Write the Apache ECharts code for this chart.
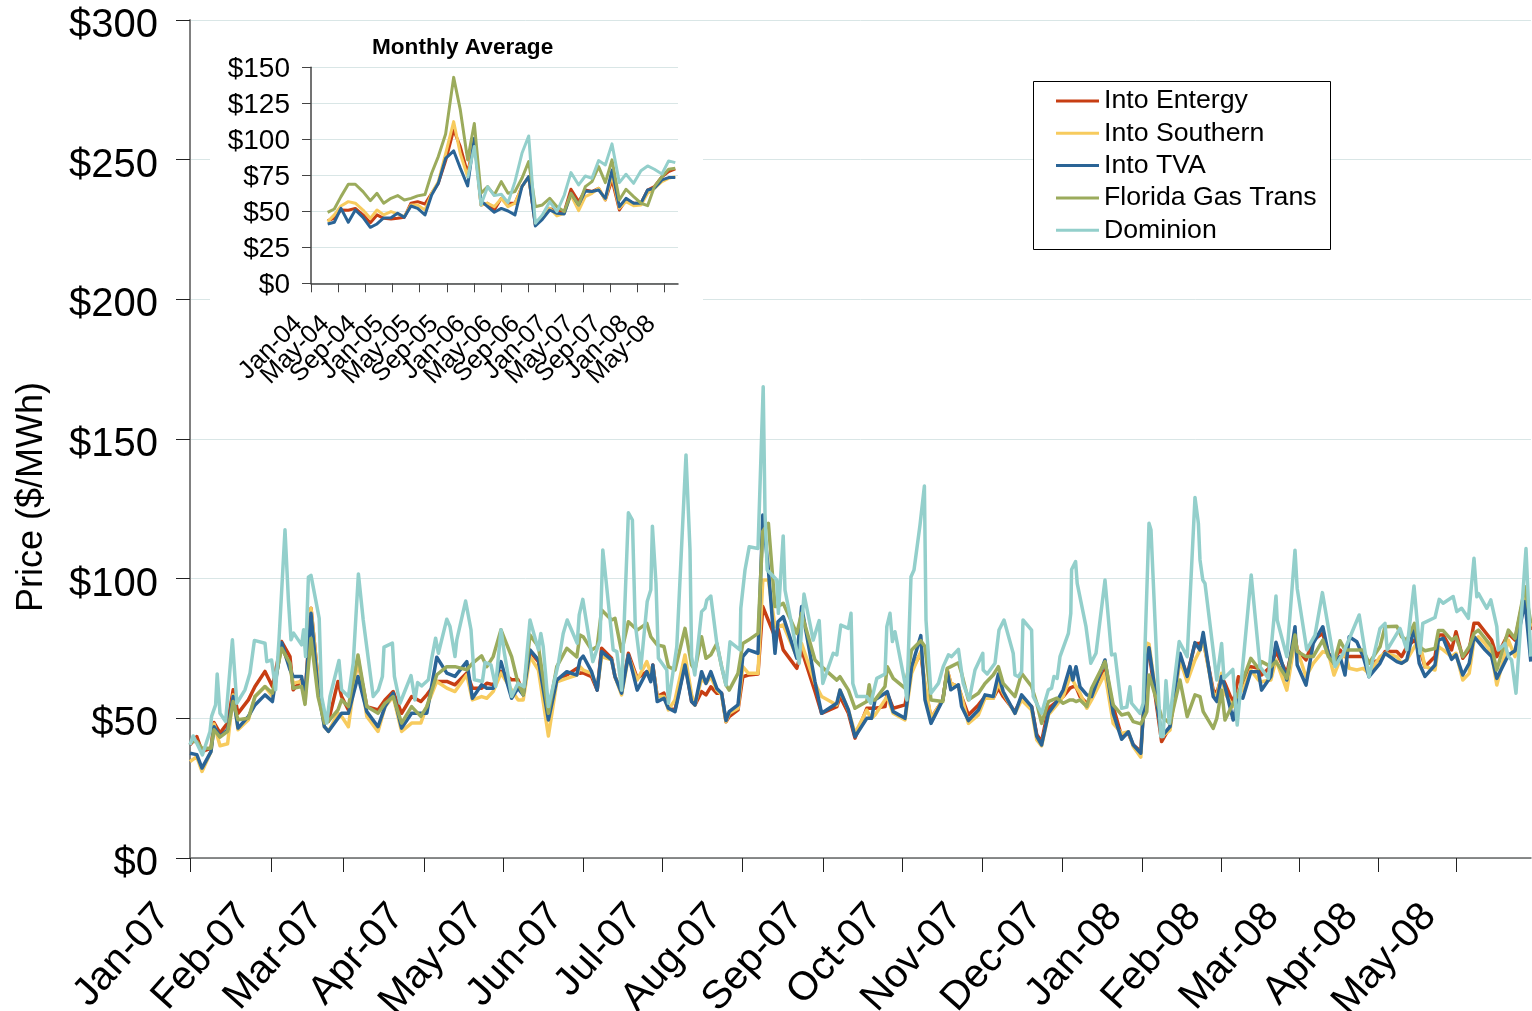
<!DOCTYPE html>
<html lang="en">
<head>
    <meta charset="UTF-8">
    <title>Power prices</title>
    <style>
        body{
            margin: 0;
            background: #fff;
        }
    </style>
</head>
<body>
<div id="main" style="width: 1532px;height:1011px;"></div>
<script src="https://cdn.jsdelivr.net/npm/echarts@6/dist/echarts.min.js"></script>
<script type="text/javascript">
    // daily chart: x is the trading day counted from 2 Jan 2007
    var monthTicks = [0, 20.25, 38.25, 58.5, 78.25, 98.25, 118, 138, 158.25, 178, 198, 218, 238, 257.75, 277.25, 297, 316.5];
    var monthLabels = ['Jan-07', 'Feb-07', 'Mar-07', 'Apr-07', 'May-07', 'Jun-07', 'Jul-07', 'Aug-07', 'Sep-07', 'Oct-07', 'Nov-07', 'Dec-07', 'Jan-08', 'Feb-08', 'Mar-08', 'Apr-08', 'May-08'];
    var seriesNames = ['Into Entergy', 'Into Southern', 'Into TVA', 'Florida Gas Trans', 'Dominion'];
    var seriesColors = ['#C73E13', '#F7CB5E', '#2A6496', '#9BAB5C', '#93CFCB'];

    var hubDays = [
        0,1.7,3,5.25,6,7.5,9.4,10.8,12,14.6,
        16.25,18.75,20.6,22.9,25,25.8,27.9,28.75,30.25,32,
        33.6,34.6,37,37.9,39.6,42,44.2,47,48.75,50.8,
        52.9,55.4,57.7,59.2,61.7,64.2,66.25,69.2,70.6,72.9,
        74.2,75.8,77.75,80.4,82,83.3,85,87.1,89.6,91.7,
        94.2,96.7,97.5,98.3,100.4,101.8,102.9,105.4,106.25,107.9,
        109.6,111.8,114.2,115.2,115.7,116.8,118.5,119.6,121.25,123.75,
        125.4,126.25,127.9,129,130.2,131.7,132.9,134,134.8,137,
        138.2,139.6,142,143.2,144.6,146.25,147,148.3,151.7,152.9,
        156.25,157.9,161.7,162.5,164.6,166.25,169.2,169.8,170.4,171.25,
        173.75,174.3,175.8,178.75,180.4,182.7,183.75,185.25,188.2,189.3,
        190.2,192.1,192.9,194.6,197.1,198.75,200.8,202.1,203.3,206.25,
        207.9,210.4,211.7,212.9,214.6,216.7,218.3,220,220.7,221.5,
        222.5,224.2,225.4,228.75,230.8,232.9,234.6,235.8,237.7,239.2,
        239.75,242.9,245,247.5,249.3,251.25,252.5,253.3,255.8,256.7,
        257.9,258.75,260.8,262.1,263.2,265.2,267.1,267.9,270.2,271.5,
        274.2,276.25,276.8,279,280.8,283.2,284.6,286,287.5,288.75,
        289.8,291.7,293.3,294.75,297.5,298.75,301.7,302.9,304.2,306.1,
        307.3,308.75,311.25,312.1,313.3,315.4,316.5,318.2,319.8,321,
        322.1,323.75,325.4,326.7,329.6,331.25,333.75,335.2
    ];
    var entergy = [
        40.5,43.5,38.1,39.3,48.5,44.7,48.3,60.2,51.8,56.6,
        61.4,66.8,61.4,77.5,72.1,60.2,63.8,57.8,89.4,63.8,
        50.7,48.9,63.2,57.8,53,70.9,54.2,53,56.6,59.6,
        51.8,57.8,56,58.4,63.2,63.2,62,66.2,60.8,60.8,
        62.6,62,66.8,63.8,63.8,59,73.9,70.3,50.6,63.7,
        65.5,67.9,66.1,66.3,64.9,60.1,75.1,71.5,64.9,59.6,
        73.3,64.3,66.7,63.7,69.1,57.8,59,53.6,53,69.7,
        56,54.8,59.6,58.4,61.3,59,59,48.8,50.6,53,
        64.9,65.5,65.9,90,85,79.2,82.2,74.5,67.9,74.5,
        59.6,51.8,54.2,57.8,51.8,42.9,53.6,53.6,53.6,53.6,
        54.2,59,53.6,54.8,67.3,73.3,61.3,50,56.6,67.3,
        62.5,61.3,57.8,51.2,54.8,57.8,57.2,60.8,57.8,52.4,
        57.2,54.2,44.1,41.7,53.6,56,57.8,60.8,61.3,61.3,
        57.8,55.4,57.2,67.3,54.2,43.5,44.6,40.5,38.1,72.1,
        73.9,41.7,47,72.1,65.5,76.8,76.8,78,60.1,59,
        65,62.5,55.4,64.9,61.3,68.5,67.9,65.5,68.5,73.9,
        66.1,79.2,74.5,70.9,78,80.4,73.3,70.9,74.5,72.1,
        72.1,72.1,72.1,69.7,70.9,73.9,73.9,72.1,75.6,78,
        75.6,68.5,72.1,79.8,79.8,74.5,81,71.5,74.5,84,
        84,81,78,72.1,80.4,78,95.9,81.6
    ];
    var southern = [
        34.5,36.3,31,38.1,48,40.2,40.9,58.4,45.9,49.5,
        57.8,61.4,57.8,75.7,68.5,62.6,63.2,55.4,89.4,63.8,
        47,45.3,51.8,50.7,47,72,50.7,45.3,54.2,57.8,
        45.3,48.3,48.3,54.2,63.2,60.8,59.6,65.6,56.6,57.8,
        57.2,59.6,66.2,60.2,56.6,56.6,72.1,67.3,43.7,63.1,
        64.3,65.5,68.5,67.3,66.1,60.7,72.1,70.9,64.9,58.4,
        72.1,63.7,70.3,66.1,68.5,57.8,57.8,53,56.6,72.7,
        58.4,54.8,64.3,62.5,64.9,60.1,58.4,48.8,51.8,53.6,
        68.5,66.1,66.1,99.5,99.5,82.8,82.8,83.4,72.1,76.8,
        62.5,57.8,54.8,60.1,53,44.6,53,51.2,50,51.2,
        56.6,57.8,51.8,49.4,66.1,73.9,62.5,50,56.6,67.3,
        62.5,61.3,57.8,48.2,51.2,57.2,57.2,62.5,59,51.8,
        56.6,53,42.3,40.1,51.2,54.8,57.8,64.9,63.7,61.3,
        59,53.6,56.6,66.1,48.2,44.6,45.2,39.9,36.1,76.9,
        76.6,43.5,45.8,70.9,63.1,70.9,74.5,78,59,57.8,
        66.1,58.9,54.2,59,60.1,67.3,63.7,63.1,63.7,70.9,
        60.1,78,74.5,64.9,69.7,73.9,73.3,65.5,70.9,73.3,
        67.9,67.3,67.9,66.1,72.1,73.3,72.1,69.7,70.9,75.6,
        78,68.5,67.3,75.6,74.5,72.1,73.3,63.7,66.1,78,
        79.2,76.8,73.3,61.9,78,72.1,94.7,82.8
    ];
    var tva = [
        37.5,37,32.2,38.1,47,43.5,45.9,57.8,46.5,50.7,
        54.8,58.4,56,77.1,67.4,65,65,57.8,87.6,60.2,
        47,45.3,50,51.8,51.8,65,52.4,47,54.2,59,
        46.5,51.8,51.8,51.8,71.9,66.2,65,70.3,57.2,62,
        60.8,60.8,70.3,57.2,60.8,58.4,74.5,70.9,49.4,63.7,
        66.7,65.5,70.9,72.3,66.7,60.1,73.9,70.9,64.9,59,
        72.7,60.1,66.7,63.1,69.1,56,57.2,53.6,52.4,69.1,
        56,54.8,66.7,62.5,66.7,60.7,59,49.2,52.4,54.8,
        72.1,74.5,73.3,122.8,103,73.3,84.6,86.4,71.5,90,
        63.1,51.8,55.4,60.1,53,43.4,50,50,50,56.6,
        59,59.6,52.4,50,68.5,79.6,56.6,48.2,56.6,66.7,
        60.2,62,54.2,49.2,53,58.4,57.8,65.9,59.6,51.8,
        58.4,54.2,43.5,40.5,51.8,56,60.2,68.5,63.7,68.5,
        61.3,58.4,57.8,70.9,51.8,42.5,45.2,40.5,37.5,70.9,
        75.3,43.5,47,73.3,65,77.1,74.5,80.7,57.8,56,
        65,61.3,49.4,57.8,57.2,66.7,66.7,60.1,65,77.2,
        63.7,82.8,69.1,61.9,76.8,82.8,73.3,69.7,72.1,65.5,
        79.2,77.4,72.1,64.9,69.7,73.3,70.3,69.7,70.9,82.8,
        69.7,65,69.1,78,78.6,71.1,72.7,65.5,69.7,79.2,
        77.4,74.5,72.1,64.3,72.7,74.2,91.8,70.3
    ];
    var florida = [
        41.7,41.7,39.3,39.3,45.9,43.3,45.3,56,49.5,50,
        57.8,61.4,59,75.1,69.7,60.8,61.4,55,78.7,57.8,
        48.3,48.9,53,56.6,54.2,72.7,54.2,51.8,55.4,57.8,
        48.3,54.2,50.7,54.2,65.6,68.5,68.5,67.4,69.7,72.4,
        68.5,72.1,81.7,72.1,62.6,58.4,79.8,75.7,51.8,68.5,
        75.1,72,79.8,79.2,74.5,75.7,88.8,85.2,85.8,73.9,
        84.6,81.6,84,79.2,79.2,76.3,75.7,68.5,67.3,82.2,
        69.1,67.3,79.2,71.5,72.7,76.8,68.5,61.9,60.1,66.1,
        76.8,78,80.4,117,119.8,90,90,91.2,80.4,87.6,
        70.9,68.5,63.7,64.9,60.1,53.6,56,62,56.6,56.6,
        61.4,68.5,64.3,60.8,74.5,77.8,75.7,56.6,56,67.9,
        68.5,69.9,66.1,56.6,59,62.5,65.5,68.5,62.5,57.8,
        66.1,61.4,55.4,48.2,56,57.2,55.4,56.6,56.6,56,
        56.6,54.2,60.8,70.3,54.8,51.2,51.8,48.8,48,52.4,
        65.5,50.6,48.2,63.7,50.6,58.4,57.8,52.4,46.4,50,
        60.1,49.4,55.4,59,63.7,71.5,67.9,70.3,68.5,70.3,
        64.3,79.8,73.9,72.1,72.1,78,72.1,69.7,77.8,74.5,
        74.5,74.5,74.5,69.7,75.6,82.8,83,79.2,78,84,
        75.6,74.2,75,81.4,81.4,78,79.2,72.1,75.6,80.4,
        81.6,78.6,75.6,67.3,81.6,78.6,97.1,84
    ];
    // Dominion spikes on its own days, so it keeps its own day list
    var dominionDays = [
        0,0.8,1.7,3.1,5,5.4,6.4,6.8,7.5,8.9,10.6,11.7,13.75,15,16.1,18.75,19.2,20.4,21.4,22.25,
        23.75,24.6,25.25,25.9,27.9,28.4,28.9,29.6,30.25,32.3,32.9,34.2,35,37.25,37.9,39.6,40.8,42.1,43.3,45.8,
        47.1,48.1,48.5,50.6,51.1,52.5,55.25,56.25,56.9,57.9,59.6,60.4,61.4,62.1,64.2,65,66.25,66.7,68.9,70.25,
        71.1,73.1,73.75,75.25,76.4,77.75,78.6,80.4,82,83.5,85,87.1,87.7,88.3,89.6,92.1,93.3,94.3,96.8,97.3,
        98.2,98.6,100.7,102.5,103.2,104,105.8,106.7,107.9,109.6,110.6,111.3,112.7,114.3,115.2,115.6,116.5,117.1,119.2,119.6,
        121.7,124,125,125.4,126.2,127.9,128.75,129.2,130.2,131.7,132.9,134,135,137.5,137.7,138.75,139.8,142,143.3,143.75,
        144.3,146.7,147.1,148.3,148.75,152.3,153.5,155.8,157.3,158.2,160.8,161.7,162.7,164.6,165.25,165.7,166.7,169.2,170.2,171.7,
        173.75,174.2,175,175.6,176.25,178.75,179.2,180.25,181,182.5,183.6,184,185.25,187.1,188.3,189.6,190.4,192.1,193.3,194.8,
        196.25,198.2,198.3,199.3,201.25,202.25,203.5,205.8,206.25,207.1,207.9,208.25,210.4,210.8,212.9,214.6,215.4,216,216.8,217.5,
        219.6,220.2,220.4,221.4,221.8,224,225.2,226.5,228.75,230.4,231.25,232.9,234.2,235,235.4,237.5,238.3,239.75,240.25,241.8,
        242.7,243.3,244,244.8,247.3,249.3,251.25,252.1,252.5,253.2,253.75,256.7,257.9,258.5,260.7,261.8,265.3,266.7,267.5,269.6,
        271.5,271.8,274.2,276.25,276.8,279.2,281.25,283.1,286.25,288.3,292.3,294.75,297.5,298.75,299.3,302.5,304.2,306,307.5,308.2,
        311.25,312.3,313.3,315.8,316.7,317.9,319.6,321,321.7,322.1,324.2,325.2,326.7,327.1,328.75,329.6,330.4,331.5,334,335.2
    ];
    var dominion = [
        40.5,43.7,41.1,36.9,45.3,50.7,54.8,65.9,51.8,48.9,78.1,55.4,60.2,66.2,77.9,76.9,70.3,70.9,60.2,78.1,
        117.5,92.4,78.1,80.5,76.3,81.7,72.1,100.5,101.2,85.8,57.8,48.3,57.8,70.7,60.2,57.8,69.7,101.7,85.3,57.8,
        60.2,65,75.5,76.9,65,55.4,65.3,56.6,62.8,61.6,63.8,71.2,78.7,73.3,85.5,82.9,72.1,78.1,92,81.7,
        63.8,63.2,70,69.1,61.4,81.7,73.3,57.8,62.6,61.3,85.2,74.5,80.4,75.7,54.2,69.7,80.4,85.2,76.9,87,
        92.6,92.6,70.3,78,110.3,99.5,74.5,73.9,60.1,123.6,121,84,67.9,91.8,96,118.8,98.3,71.5,67.3,55.4,
        75.7,144.3,110.3,72,65.5,88.2,89.4,92.4,93.8,76.9,68.5,61.9,77.4,74.5,89.4,103.1,111.4,110.8,168.7,123.4,
        103.1,99.5,87.6,115.3,95.9,69.7,94.5,78,85,62.5,73.3,72.7,83.4,82.2,87.6,62.5,57.8,57.8,55.4,64.3,
        65.9,82.8,87.6,77.5,81,62.5,56.6,100.7,103.1,119.2,133.2,85.2,59,62.5,68.5,72.7,72.1,74.7,62.5,56.6,
        67.3,73.3,67.3,65.9,69.7,81.6,85.2,73.3,65.5,64.9,66.7,85.2,81.6,57.8,51.8,60.2,60.8,65,64.3,72.1,
        80.4,87.6,103.3,106.1,98.3,82.8,69.7,73.3,99.5,72.7,73,53.6,54,61.3,55.4,51.8,55.4,119.8,117.4,67.3,
        43.5,43.5,63.5,48.2,77.5,72.1,129.1,119.8,106.7,99.5,98.3,63.7,76.8,64.3,67.5,47.6,101.3,80.4,68.5,64.3,
        93.8,85.2,72.1,110.2,96.5,74.5,79.8,95,68.5,73.3,87,64.9,82.2,84,74.5,82.2,74.5,97.4,73.3,84,
        86.1,92.6,91.2,93.6,88.2,89.4,85.8,107.3,93.5,94.7,89.4,92.4,82.8,74.5,76.8,72.1,70.9,59,110.8,72.1
    ];

    // inset: x counted in months from Jan-04
    var insetTicks = [0, 4, 8, 12, 16, 20, 24, 28, 32, 36, 40, 44, 48, 52];
    var insetLabels = ['Jan-04', 'May-04', 'Sep-04', 'Jan-05', 'May-05', 'Sep-05', 'Jan-06', 'May-06', 'Sep-06', 'Jan-07', 'May-07', 'Sep-07', 'Jan-08', 'May-08'];
    var insetMonths = [
        2.45,3.43,4.41,5.49,6.52,7.65,8.73,9.71,10.69,11.77,
        12.75,13.73,14.71,15.69,16.77,17.75,18.73,19.81,20.99,21.97,
        23.05,24.03,25.01,25.99,26.97,28,28.99,30.01,31.04,32.03,
        33.01,34.04,35.12,36.19,37.27,38.25,39.38,40.36,41.34,42.32,
        43.31,44.29,45.37,46.35,47.47,48.55,49.53,50.52,51.64,52.62,53.6
    ];
    var insetEntergy = [
        43.5,45.1,50.9,50.7,52,47.5,42.1,47.5,45.1,44.7,
        45.1,45.8,55.6,56.7,55.1,62.5,69.4,85,106.5,94.9,
        76.4,99.5,54.4,55.6,50.9,59,55.6,55.6,67.1,74,
        40.5,46.3,52.1,49.8,49.8,65.3,56.7,64.8,63.7,66,
        57.9,71.8,50.9,57.9,55.6,55.6,64.8,67.1,74,77.6,79.4
    ];
    var insetSouthern = [
        42.8,47.5,53.7,56.7,55.6,50.9,45.1,50.9,47.5,49.8,
        48.2,46.3,54.4,54.4,50.9,62.5,70.6,90,112.3,90,
        74,100,54.4,55.6,53.2,59,53.2,55.6,67.1,74,
        41.7,46.3,52.1,46.8,48.6,61.3,50.5,60.2,62.5,66,
        57.9,75.2,52.1,56.7,53.9,54.4,62.5,66,70.6,72.9,74.1
    ];
    var insetTva = [
        41.2,42.4,52,42.4,50.9,45.8,38.9,41.2,45.4,45.6,
        48.6,45.8,53.7,52,47.5,61.3,69.4,86.8,92,80,
        67.6,100.7,57.2,53.2,49.3,52,50.2,47.5,67.1,74.1,
        39.8,44.4,50.9,48.6,48.2,62.5,54.4,64.1,63.7,64.8,
        59,78.7,53.2,59,55.6,55.6,64.8,66,71.8,73.4,73.4
    ];
    var insetFlorida = [
        49.3,51.6,60.2,68.8,68.8,63.7,57.4,62.5,55.6,59,
        60.9,57.9,59,60.7,61.6,76.4,88,103.7,143,120.4,
        85.7,111,62.5,67.1,61.3,70.6,62.5,63.7,72.9,84.5,
        53.2,54.4,59,53.2,49.8,62.5,54.4,67.1,70.6,81,
        69.9,85.7,57.9,65.3,60.2,55.6,53.9,67.1,74,79.2,79.9
    ];
    var insetDominion = [
        null,null,null,null,null,null,null,null,null,null,
        null,null,null,null,null,null,null,null,null,null,
        73,95,54.4,67.1,60.9,61.8,56,70.6,90.3,102.3,
        41.7,47.5,56.7,49.8,61.3,76.9,68.3,74.5,72.9,85.2,
        82.2,96.8,69.9,75.7,69.4,78.2,81.5,79.2,75.9,85,83.8
    ];

    var font = '"Liberation Sans", Arial, sans-serif';

    // echarts drops the first and last label when neighbours overlap, so the
    // inset gets blank sacrificial ticks at both ends (the overlap is in the original)
    var insetAxisValues = [0].concat(insetTicks.map(function (v) {
        return v === 0 ? 0.001 : v;
    }), [53.999]);

    function zip(xs, ys) {
        return xs.map(function (x, i) {
            return [x, ys[i]];
        });
    }

    function lineSeries(idx, axisIdx, data, z, width) {
        return {
            name: seriesNames[idx],
            type: 'line',
            xAxisIndex: axisIdx,
            yAxisIndex: axisIdx,
            data: data,
            showSymbol: false,
            symbol: 'none',
            z: z,
            silent: true,
            lineStyle: {color: seriesColors[idx], width: width, join: 'round'},
            itemStyle: {color: seriesColors[idx]}
        };
    }

    var myChart = echarts.init(document.getElementById('main'));
    myChart.setOption({
        animation: false,
        backgroundColor: '#fff',
        textStyle: {fontFamily: font},
        title: {
            text: 'Monthly Average',
            left: 372,
            top: 36,
            padding: 0,
            textStyle: {fontFamily: font, fontSize: 22.6, fontWeight: 'bold', color: '#000'}
        },
        legend: {
            data: seriesNames,
            orient: 'vertical',
            left: 1056,
            top: 86,
            padding: 0,
            itemGap: 2.3,
            itemWidth: 43,
            itemHeight: 3,
            icon: 'rect',
            selectedMode: false,
            textStyle: {fontFamily: font, fontSize: 26.7, color: '#000', lineHeight: 30}
        },
        grid: [
            {left: 190, top: 20, width: 1341, height: 838, outerBoundsMode: 'none'},
            {left: 311, top: 67.3, width: 367, height: 216, outerBoundsMode: 'none'}
        ],
        xAxis: [
            {
                type: 'value',
                min: 0,
                max: 335.25,
                splitLine: {show: false},
                axisLine: {lineStyle: {color: '#666', width: 1.5}},
                axisTick: {customValues: monthTicks, length: 14, lineStyle: {color: '#222'}},
                axisLabel: {
                    customValues: monthTicks,
                    rotate: 48,
                    margin: 22,
                    padding: [0, 40, 0, 0],
                    fontSize: 40,
                    color: '#000',
                    showMinLabel: true,
                    showMaxLabel: true,
                    formatter: function (v) {
                        return monthLabels[monthTicks.indexOf(v)];
                    }
                }
            },
            {
                type: 'value',
                gridIndex: 1,
                min: 0,
                max: 54,
                z: 6,
                splitLine: {show: false},
                axisLine: {lineStyle: {color: '#444', width: 1.5}},
                axisTick: {customValues: insetAxisValues, length: 9, lineStyle: {color: '#444'}},
                axisLabel: {
                    customValues: insetAxisValues,
                    rotate: 45,
                    margin: 24,
                    padding: [0, 18, 0, 0],
                    fontSize: 25.5,
                    color: '#000',
                    showMinLabel: false,
                    showMaxLabel: false,
                    formatter: function (v) {
                        var i = insetTicks.indexOf(v === 0.001 ? 0 : v);
                        return (i < 0 || v === 0) ? '' : insetLabels[i];
                    }
                }
            }
        ],
        yAxis: [
            {
                type: 'value',
                min: 0,
                max: 300,
                interval: 50,
                splitLine: {lineStyle: {color: '#D9E6E6', width: 1}},
                axisLine: {show: true, lineStyle: {color: '#808080', width: 2}},
                axisTick: {show: true, length: 14, lineStyle: {color: '#222'}},
                axisLabel: {margin: 32, verticalAlign: 'top', lineHeight: 12, fontSize: 40, color: '#000', formatter: '${value}'}
            },
            {
                type: 'value',
                gridIndex: 1,
                min: 0,
                max: 150,
                interval: 25,
                z: 6,
                splitLine: {lineStyle: {color: '#D9E6E6', width: 1}},
                axisLine: {show: true, lineStyle: {color: '#444', width: 1.5}},
                axisTick: {show: true, length: 9, lineStyle: {color: '#444'}},
                axisLabel: {margin: 21, verticalAlign: 'top', lineHeight: 4, fontSize: 28, color: '#000', formatter: '${value}'}
            }
        ],
        graphic: [
            // white panel behind the inset, box behind the legend
            {type: 'rect', z: 1, silent: true, shape: {x: 210, y: 25, width: 493, height: 375}, style: {fill: '#fff'}},
            {type: 'rect', z: 1, silent: true, shape: {x: 1033.5, y: 81.5, width: 297, height: 168}, style: {fill: '#fff', stroke: '#000', lineWidth: 1}},
            {
                type: 'text',
                z: 3,
                x: 32,
                y: 497,
                rotation: Math.PI / 2,
                style: {text: 'Price ($/MWh)', font: '36px ' + font, fill: '#000', textAlign: 'center', textVerticalAlign: 'middle'}
            }
        ],
        series: [
            lineSeries(0, 0, zip(hubDays, entergy), 2, 3.5),
            lineSeries(1, 0, zip(hubDays, southern), 2, 3.5),
            lineSeries(2, 0, zip(hubDays, tva), 2, 3.5),
            lineSeries(3, 0, zip(hubDays, florida), 2, 3.5),
            lineSeries(4, 0, zip(dominionDays, dominion), 2, 3.5),
            lineSeries(0, 1, zip(insetMonths, insetEntergy), 7, 3),
            lineSeries(1, 1, zip(insetMonths, insetSouthern), 7, 3),
            lineSeries(2, 1, zip(insetMonths, insetTva), 7, 3),
            lineSeries(3, 1, zip(insetMonths, insetFlorida), 7, 3),
            lineSeries(4, 1, zip(insetMonths, insetDominion), 7, 3)
        ]
    });
</script>
</body>
</html>
